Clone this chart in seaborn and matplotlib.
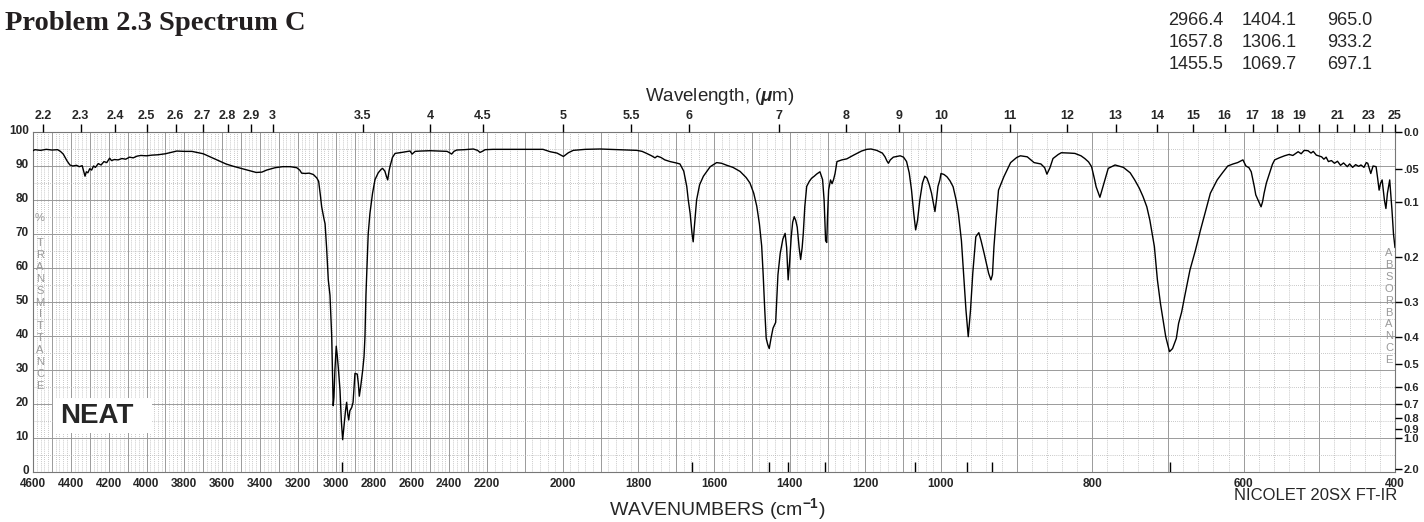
"""
IR spectrum (Problem 2.3, Spectrum C) redrawn on a Nicolet-style chart.

The wavenumber axis uses three linear segments (4600-2200, 2200-1000,
1000-400 cm-1), each taking a third of the width, like the printed chart.
"""
import matplotlib

matplotlib.use("Agg")
import matplotlib.pyplot as plt
import matplotlib.transforms as mtransforms
import numpy as np
import pandas as pd
import seaborn as sns
from matplotlib.patches import Rectangle
from matplotlib.ticker import FixedLocator, FuncFormatter

# spectrum: wavenumber (cm-1) -> % transmittance
WN_HIGH = [4600, 4590, 4560, 4530, 4500, 4470, 4455, 4440, 4420, 4405, 4390, 4370,
           4355, 4340, 4332, 4325, 4318, 4310, 4300, 4290, 4280, 4270, 4255, 4240,
           4225, 4210, 4195, 4185, 4170, 4150, 4130, 4110, 4090, 4070, 4050, 4030,
           4000, 3970, 3940, 3900, 3870, 3840, 3800, 3760, 3735, 3700, 3660, 3620,
           3580, 3540, 3500, 3460, 3420, 3390, 3365, 3320, 3280, 3240, 3206, 3190,
           3180, 3160, 3140, 3118, 3100, 3090, 3080, 3074, 3062, 3056, 3048, 3039,
           3030, 3021, 3016, 3013, 3009, 3004, 2997, 2992, 2985, 2977, 2970, 2963,
           2955, 2948, 2942, 2936, 2931, 2925, 2915, 2908, 2898, 2886, 2880, 2875,
           2868, 2857, 2850, 2845, 2840, 2836, 2828, 2819, 2805, 2792, 2775, 2760,
           2752, 2740, 2732, 2725, 2718, 2713, 2700, 2686, 2650, 2607, 2596, 2580,
           2550, 2500, 2450, 2411, 2395, 2387, 2375, 2360, 2320, 2272, 2250, 2237,
           2225, 2210]
T_HIGH = [94.5, 94.8, 94.6, 94.9, 94.7, 94.8, 94.3, 93.5, 91.5, 90.3, 90.0, 90.2,
          89.8, 90.1, 88.5, 87.0, 88.3, 88.0, 89.2, 88.8, 90.0, 89.6, 90.7, 90.3,
          91.3, 91.0, 92.3, 91.6, 91.9, 91.8, 92.2, 92.0, 92.6, 92.4, 92.9, 93.1,
          93.0, 93.2, 93.3, 93.6, 94.0, 94.4, 94.3, 94.3, 94.0, 93.6, 92.6, 91.6,
          90.6, 89.9, 89.3, 88.7, 88.1, 88.2, 88.8, 89.5, 89.8, 89.8, 89.5, 88.8,
          87.9, 87.8, 87.9, 87.5, 86.5, 85.5, 81.0, 78.0, 74.5, 73.0, 66.0, 56.5,
          52.0, 40.0, 28.0, 19.5, 22.0, 30.0, 37.0, 34.5, 30.0, 24.0, 15.0, 9.5,
          14.0, 18.0, 20.5, 17.0, 15.3, 18.0, 19.0, 20.5, 29.0, 28.8, 26.0, 22.3,
          25.0, 30.0, 34.0, 40.0, 52.0, 58.0, 70.0, 76.0, 82.0, 86.0, 88.0, 89.0,
          89.3, 88.5, 87.0, 85.9, 88.5, 89.8, 92.5, 93.7, 94.0, 94.4, 93.5, 94.3,
          94.4, 94.5, 94.4, 94.3, 93.8, 93.5, 94.3, 94.7, 94.8, 95.0, 94.6, 94.0,
          94.3, 94.8]

WN_MID = [2184, 2100, 2052, 2033, 2015, 1998, 1985, 1972, 1940, 1901, 1850, 1804,
          1790, 1778, 1765, 1756, 1750, 1740, 1730, 1716, 1700, 1690, 1680, 1672,
          1668, 1663, 1658, 1655, 1652, 1646, 1638, 1628, 1610, 1593, 1580, 1566,
          1550, 1531, 1515, 1505, 1495, 1487, 1480, 1474, 1470, 1466, 1462, 1458,
          1454, 1449, 1444, 1437, 1431, 1425, 1418, 1412, 1408, 1404, 1400, 1396,
          1392, 1388, 1384, 1380, 1375, 1371, 1367, 1364, 1360, 1355, 1348, 1342,
          1335, 1329, 1320, 1313, 1309, 1307, 1305, 1302, 1300, 1297, 1292, 1288,
          1284, 1280, 1275, 1262, 1249, 1231, 1210, 1196, 1185, 1170, 1155, 1148,
          1143, 1139, 1134, 1126, 1108, 1099, 1091, 1084, 1078, 1072, 1067, 1062,
          1056, 1049, 1043, 1037, 1031, 1025, 1020, 1016, 1012, 1008, 1003]
T_MID = [94.9, 94.9, 94.9, 94.2, 93.8, 92.8, 93.9, 94.6, 94.9, 95.0, 94.8, 94.6,
         94.3, 93.7, 93.0, 92.4, 92.9, 92.5, 91.8, 91.3, 90.9, 90.6, 88.5, 84.0,
         80.0, 76.0, 70.0, 67.7, 72.0, 80.0, 84.5, 87.0, 89.8, 91.0, 90.8, 90.2,
         89.6, 88.4, 86.6, 85.0, 82.0, 78.2, 73.0, 66.5, 58.0, 48.0, 39.3, 37.5,
         36.3, 39.5, 42.3, 44.0, 58.0, 64.3, 68.5, 70.2, 66.0, 56.5, 62.0, 69.0,
         73.5, 75.1, 74.0, 72.0, 66.0, 62.5, 66.0, 70.2, 78.0, 84.0, 85.5, 86.4,
         87.0, 87.6, 88.3, 86.0, 80.0, 74.0, 68.0, 67.5, 75.0, 83.0, 85.9, 84.8,
         86.0, 87.8, 91.3, 91.8, 92.1, 93.2, 94.4, 94.9, 95.0, 94.6, 93.8, 92.7,
         91.5, 90.8, 91.8, 92.6, 93.0, 92.6, 91.3, 88.0, 83.0, 76.0, 71.2, 74.0,
         80.0, 85.0, 87.0, 86.4, 84.5, 82.0, 79.0, 76.6, 80.0, 84.0, 85.9]

WN_LOW = [1000, 996, 992, 988, 984, 980, 977, 973, 970, 967, 964, 961, 958, 954,
          950, 947, 943, 937, 934, 932, 930, 927, 924, 917, 908, 900, 895, 886,
          877, 868, 863, 860, 856, 852, 845, 841, 830, 823, 815, 810, 805, 801,
          797, 795, 790, 786, 782, 779, 770, 759, 750, 744, 738, 733, 728, 724,
          718, 714, 710, 706, 703, 698, 694, 689, 686, 682, 678, 671, 664, 657,
          650, 644, 635, 628, 621, 614, 608, 601, 597, 593, 590, 586, 584, 580,
          577, 575, 573, 570, 566, 562, 559, 553, 546, 540, 535, 528, 524, 520,
          515, 511, 508, 504, 501, 497, 494, 491, 488, 484, 480, 476, 472, 468,
          463, 460, 456, 452, 448, 445, 441, 438, 436, 432, 429, 425, 423, 421,
          419, 417, 414, 412, 410, 407, 404, 402, 400]
T_LOW = [87.8, 87.5, 86.8, 85.6, 83.9, 80.0, 76.0, 68.0, 58.0, 47.6, 39.8, 47.6,
         58.5, 69.2, 70.4, 68.0, 64.3, 58.4, 56.5, 58.0, 66.3, 75.0, 82.9, 86.8,
         91.0, 92.5, 93.0, 92.7, 91.0, 90.6, 89.5, 87.6, 89.5, 92.2, 93.4, 93.9,
         93.8, 93.7, 93.0, 92.2, 91.2, 89.8, 86.0, 83.9, 80.8, 83.9, 87.0, 89.3,
         90.3, 89.6, 88.0, 85.9, 83.5, 81.0, 78.0, 74.1, 66.3, 56.5, 49.6, 44.0,
         39.8, 35.4, 36.3, 39.3, 43.7, 47.0, 51.6, 59.4, 65.0, 71.2, 77.0, 82.0,
         85.9, 88.0, 90.0, 90.6, 91.0, 91.8, 90.0, 89.5, 88.3, 84.0, 81.5, 79.5,
         78.0, 79.5, 82.0, 85.0, 87.8, 90.5, 91.8, 92.4, 93.0, 93.4, 93.1, 94.2,
         93.6, 94.6, 94.5, 93.8, 94.3, 93.2, 93.0, 92.7, 92.0, 92.6, 91.3, 91.6,
         90.8, 91.4, 90.2, 90.9, 89.8, 90.6, 89.6, 90.4, 89.9, 90.3, 89.6, 91.0,
         90.8, 87.8, 90.0, 89.8, 86.5, 82.9, 85.0, 85.9, 80.0, 77.5, 82.0, 85.9,
         77.0, 70.0, 66.0]

PEAKS = [2966.4, 1657.8, 1455.5, 1404.1, 1306.1, 1069.7, 965.0, 933.2, 697.1]
PEAK_TABLE = [["2966.4", "1404.1", "965.0"],
              ["1657.8", "1306.1", "933.2"],
              ["1455.5", "1069.7", "697.1"]]

WN_LABELS = [4600, 4400, 4200, 4000, 3800, 3600, 3400, 3200, 3000, 2800, 2600,
             2400, 2200, 2000, 1800, 1600, 1400, 1200, 1000, 800, 600, 400]
WL_TICKS = [2.2, 2.3, 2.4, 2.5, 2.6, 2.7, 2.8, 2.9, 3, 3.5, 4, 4.5, 5, 5.5, 6, 7,
            8, 9, 10, 11, 12, 13, 14, 15, 16, 17, 18, 19, 20, 21, 22, 23, 24, 25]
WL_UNLABELED = [20, 22, 24]
ABS_TICKS = [0.0, 0.05, 0.1, 0.2, 0.3, 0.4, 0.5, 0.6, 0.7, 0.8, 0.9, 1.0, 2.0]
ABS_LABELS = ["0.0", ".05", "0.1", "0.2", "0.3", "0.4", "0.5", "0.6", "0.7",
              "0.8", "0.9", "1.0", "2.0"]

# chart paper: three segments of equal width (increasing map, axis inverted below)
SEG_WN = np.array([400, 1000, 2200, 4600])
SEG_POS = np.array([-7200, -4800, -2400, 0])


def fwd(w):
    return np.interp(w, SEG_WN, SEG_POS)


def inv(p):
    return np.interp(p, SEG_POS, SEG_WN)


sns.set_style("white")
plt.rcParams["font.family"] = ["Liberation Sans", "DejaVu Sans"]
plt.rcParams["font.weight"] = "bold"
plt.rcParams["mathtext.fontset"] = "custom"
plt.rcParams["mathtext.rm"] = "Liberation Sans"
plt.rcParams["mathtext.it"] = "Liberation Sans:italic"

W, H = 1424, 522
fig = plt.figure(figsize=(W / 100, H / 100), dpi=100)
ax = fig.add_axes([33 / W, 1 - 472 / H, 1362 / W, 340 / H])
ax.set_xscale("function", functions=(fwd, inv))

df = pd.DataFrame({"wn": WN_HIGH + WN_MID + WN_LOW, "T": T_HIGH + T_MID + T_LOW})
sns.lineplot(data=df, x="wn", y="T", ax=ax, sort=False, estimator=None,
             color="black", lw=1.0, zorder=5)
ax.vlines(PEAKS, 0, 2.8, color="black", lw=1.0, zorder=5)

ax.set_xlim(4600, 400)
ax.set_ylim(0, 100)
ax.set_xlabel("")
ax.set_ylabel("")

# grid: 100 cm-1 solid, 20 cm-1 dotted; 10 % solid, 5 % dotted
major_x = np.arange(4600, 399, -100)
minor_x = [w for w in np.arange(4600, 399, -20) if w % 100]
ax.xaxis.set_major_locator(FixedLocator(major_x))
ax.xaxis.set_minor_locator(FixedLocator(minor_x))
ax.xaxis.set_major_formatter(FuncFormatter(lambda v, p: f"{v:.0f}" if round(v) in WN_LABELS else ""))
ax.yaxis.set_major_locator(FixedLocator(np.arange(0, 101, 10)))
ax.yaxis.set_minor_locator(FixedLocator(np.arange(5, 100, 10)))
ax.grid(which="major", color="#9a9a9a", lw=0.7, ls="-")
ax.grid(which="minor", color="#b5b5b5", lw=0.6, ls=(0, (1, 1.5)))
ax.tick_params(axis="x", which="both", length=0, pad=4, labelsize=8.5)
ax.tick_params(axis="y", which="both", length=0, pad=3, labelsize=8.5)
shift = mtransforms.ScaledTranslation(0, 0.03, fig.dpi_scale_trans)
for lbl in ax.get_yticklabels():
    lbl.set_transform(lbl.get_transform() + shift)
for s in ax.spines.values():
    s.set_color("#777777")
    s.set_linewidth(0.8)

# absorbance scale on the right
axr = ax.twinx()
axr.set_ylim(0, 100)
axr.set_yticks([100 * 10 ** (-a) for a in ABS_TICKS])
axr.set_yticklabels(ABS_LABELS)
axr.tick_params(axis="y", direction="out", length=5, width=1, pad=1,
                labelsize=8, color="black")
for s in axr.spines.values():
    s.set_visible(False)

# wavelength scale on top
axt = ax.twiny()
axt.set_xscale("function", functions=(fwd, inv))
axt.set_xlim(4600, 400)
axt.set_xticks([1e4 / w for w in WL_TICKS])
axt.set_xticklabels(["" if w in WL_UNLABELED else f"{w:g}" for w in WL_TICKS])
axt.tick_params(axis="x", direction="out", length=6, width=1, pad=1,
                labelsize=9, color="black")
axt.xaxis.set_minor_locator(FixedLocator([]))
for s in axt.spines.values():
    s.set_visible(False)

# NEAT label
ax.add_patch(Rectangle((20 / 1362, 39 / 340), 99 / 1362, 35 / 340,
                       transform=ax.transAxes, facecolor="white",
                       edgecolor="none", zorder=3))
ax.text(64 / 1362, 56 / 340, "NEAT", transform=ax.transAxes, fontsize=20,
        fontweight="bold", ha="center", va="center", zorder=4)

# stacked axis names
for i, ch in enumerate("%TRANSMITTANCE"):
    y = 218 if i == 0 else 243 + (i - 1) * 11.9
    fig.text(40 / W, 1 - y / H, ch, fontsize=8, color="#9a9a9a",
             fontweight="normal", ha="center", va="center")
for i, ch in enumerate("ABSORBANCE"):
    fig.text(1389 / W, 1 - (253 + i * 11.9) / H, ch, fontsize=8,
             color="#9a9a9a", fontweight="normal", ha="center", va="center")

fig.text(5 / W, 1 - 30 / H, "Problem 2.3 Spectrum C", family="Liberation Serif",
         fontsize=20.5, fontweight="bold", va="baseline", ha="left", color="#231f20")
for r, row in enumerate(PEAK_TABLE):
    for c, val in enumerate(row):
        fig.text([1223, 1297, 1372][c] / W, 1 - [25, 47, 69][r] / H, val,
                 fontsize=13, fontweight="normal", ha="right", va="baseline")

fig.text(720 / W, 1 - 101 / H, r"Wavelength, ($\mu$m)", fontsize=13.5,
         fontweight="normal", ha="center", va="baseline")
fig.text(717 / W, 1 - 515 / H, r"WAVENUMBERS (cm$^{-1}$)", fontsize=14,
         fontweight="normal", ha="center", va="baseline")
fig.text(1397 / W, 1 - 500 / H, "NICOLET 20SX FT-IR", fontsize=12,
         fontweight="normal", ha="right", va="baseline")

fig.savefig("out.png", dpi=100)
